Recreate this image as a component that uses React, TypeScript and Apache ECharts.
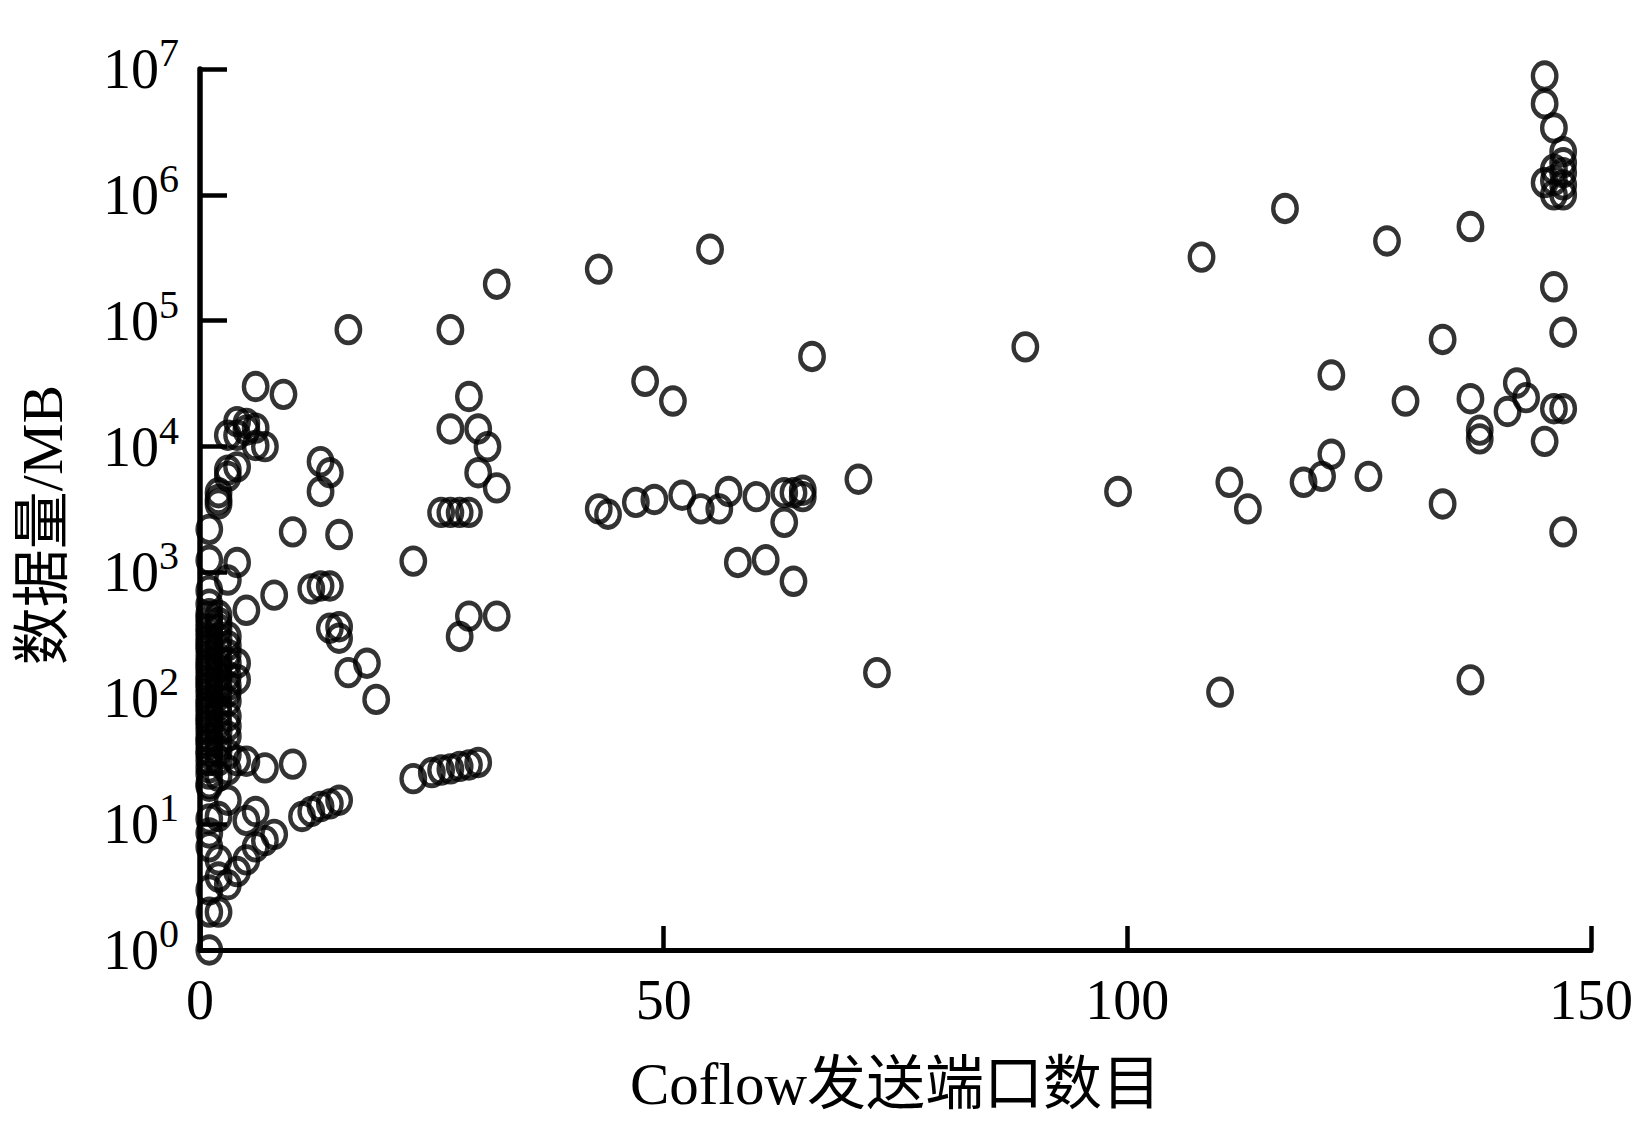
import React, { useEffect, useRef } from "react";
import * as echarts from "echarts";

// ---- axis ticks ----
const xTickValues = [0, 50, 100, 150];
const yMinMB = 1;
const yMaxMB = 1e7;

// ---- data: Coflow sender ports vs. data volume (MB) ----
// few senders (1-10)
const fewPorts = [
  1, 1, 2, 1, 3, 2, 4, 5, 2, 6, 1, 7, 8, 1, 1, 2, 5, 6, 3, 1, 3, 1, 4, 5, 7, 10,
  1, 1, 1, 1, 1, 1, 1, 1, 1, 1, 1, 1, 1, 1, 1, 1, 1, 1, 1, 1,
  2, 2, 2, 2, 2, 2, 2, 2, 2, 2, 2, 2,
  3, 3, 3, 3, 3, 3, 3, 3,
  4, 4, 4, 4, 4, 4,
  5, 5, 5, 6, 6, 6, 7, 8, 9, 10,
];
const fewMB = [
  1, 2.0, 2.0, 3.0, 3.3, 3.8, 4.2, 5.2, 5.2, 6.6, 6.6, 7.4, 8.3, 8.5, 11, 11.5, 10.7, 12.6, 15.5, 20, 27, 28, 32, 31.6, 28, 30,
  36, 43, 49, 61, 70, 84, 98, 122, 140, 168, 195, 245, 280, 335, 400, 470, 560, 720, 1250, 2200,
  38, 54, 76, 105, 132, 178, 251, 355, 457, 3500, 3800, 4300,
  112, 150, 224, 309, 870, 5800, 6500, 12300,
  141, 190, 1200, 6900, 12300, 15800,
  500, 15300, 13500, 30000, 14000, 10200, 10000, 660, 26000, 2100,
];

// dense column of single/double/triple-sender coflows
const columnPorts = [
  1, 1, 1, 1, 1, 1, 1, 1, 1, 1, 1, 1, 1, 1, 1, 1, 1, 1,
  2, 2, 2, 2, 2, 2, 2, 2, 2, 2,
  3, 3, 3, 3, 3, 3, 3, 3,
];
const columnMB = [
  21, 25, 32, 38, 46, 55, 66, 77, 91, 110, 131, 152, 182, 218, 262, 305, 362, 438,
  24, 32, 45, 63, 88, 118, 150, 208, 296, 400,
  36, 50, 60, 72, 95, 126, 190, 262,
];

// medium senders (11-40)
const midPorts = [
  13, 14, 13, 15, 16, 12, 13, 14, 14, 15, 15, 16, 18, 19,
  11, 12, 13, 14, 15, 23, 23, 25, 26, 27, 28, 29, 30,
  27, 26, 27, 28, 29, 27, 30, 31, 30, 32, 29, 29, 32, 28, 32,
];
const midMB = [
  7600, 6200, 4400, 2000, 85000, 740, 780, 780, 360, 370, 300, 160, 190, 98,
  11.5, 12.6, 13.8, 14.5, 15.5, 1230, 23, 25.7, 26.9, 27.5, 28.8, 29.5, 30.9,
  85000, 3000, 3000, 3000, 3000, 13800, 13800, 10000, 6200, 4700, 25000, 450, 450, 310, 195000,
];

// many senders (41-100)
const manyPorts = [
  43, 55, 66, 89, 99, 48, 51, 43, 44, 47, 49, 52, 54, 56, 57, 60,
  63, 64, 65, 65, 63, 58, 61, 64, 71, 73,
];
const manyMB = [
  257000, 370000, 52000, 62000, 4400, 33000, 23000, 3200, 2900, 3600, 3800, 4100, 3200, 3200, 4400, 4000,
  4300, 4300, 4500, 4000, 2500, 1200, 1260, 850, 5500, 160,
];

// very many senders (>100)
const hugePorts = [
  108, 117, 128, 137, 110, 111, 113, 119, 121, 122, 122, 126, 130, 134, 134, 137, 137,
  138, 138, 141, 142, 143, 145, 146, 147, 146, 147, 147,
  145, 145, 146, 147, 147, 147, 147, 147, 146, 146, 145, 146,
];
const hugeMB = [
  320000, 780000, 430000, 560000, 112, 5200, 3200, 5200, 5800, 8700, 37000, 5800, 23000, 71000, 3500, 24000, 140,
  13500, 11500, 19000, 32000, 24500, 11000, 20000, 20000, 186000, 81000, 2100,
  8800000, 5300000, 3400000, 2200000, 1800000, 1500000, 1200000, 1000000, 1600000, 1000000, 1250000, 1300000,
];

const allPorts = [...fewPorts, ...columnPorts, ...midPorts, ...manyPorts, ...hugePorts];
const allMB = [...fewMB, ...columnMB, ...midMB, ...manyMB, ...hugeMB];

const SERIF = "'Liberation Serif', 'Times New Roman', 'Noto Sans CJK SC', serif";
const ELLIPSE =
  "path://M0,-1C0.5523,-1,1,-0.5523,1,0C1,0.5523,0.5523,1,0,1C-0.5523,1,-1,0.5523,-1,0C-1,-0.5523,-0.5523,-1,0,-1Z";

export default function App() {
  const ref = useRef<HTMLDivElement>(null);

  useEffect(() => {
    if (!ref.current) return;
    const chart = echarts.init(ref.current, undefined, { renderer: "svg" });
    const data = allPorts.map((p, i) => [p, allMB[i]]);

    chart.setOption({
      animation: false,
      backgroundColor: "#ffffff",
      grid: { left: 200, right: 48, top: 69, bottom: 175, containLabel: false },
      graphic: [
        {
          type: "text",
          x: 42,
          y: 525,
          rotation: Math.PI / 2,
          style: {
            text: "数据量/MB",
            fontFamily: SERIF,
            fontSize: 58,
            fill: "#000",
            align: "center",
            verticalAlign: "middle",
          },
        },
      ],
      xAxis: {
        type: "value",
        min: xTickValues[0],
        max: xTickValues[xTickValues.length - 1],
        interval: 50,
        name: "Coflow发送端口数目",
        nameLocation: "middle",
        nameGap: 104,
        nameTextStyle: { fontFamily: SERIF, fontSize: 59, color: "#000" },
        axisLine: { show: true, onZero: false, lineStyle: { color: "#000", width: 5 } },
        axisTick: { show: true, inside: true, length: 24, lineStyle: { color: "#000", width: 4.5 } },
        axisLabel: { margin: 22, fontFamily: SERIF, fontSize: 56, color: "#000" },
        splitLine: { show: false },
      },
      yAxis: {
        type: "log",
        logBase: 10,
        min: yMinMB,
        max: yMaxMB,
        axisLine: { show: true, onZero: false, lineStyle: { color: "#000", width: 5.5 } },
        axisTick: { show: true, inside: true, length: 27, lineStyle: { color: "#000", width: 4.5 } },
        axisLabel: {
          margin: 21,
          formatter: (v: number) => `{b|10}{s|${Math.round(Math.log10(v))}}`,
          rich: {
            b: { fontFamily: SERIF, fontSize: 56, color: "#000", lineHeight: 56 },
            s: { fontFamily: SERIF, fontSize: 40, color: "#000", lineHeight: 40, padding: [0, 0, 33, 0] },
          },
        },
        splitLine: { show: false },
      },
      series: [
        {
          type: "scatter",
          data,
          symbol: ELLIPSE,
          symbolSize: [23.5, 26.5],
          itemStyle: { color: "rgba(0,0,0,0)", borderColor: "#000", borderWidth: 4.6 },
          emphasis: { disabled: true },
          silent: true,
        },
      ],
    });

    return () => chart.dispose();
  }, []);

  return (
    <div
      ref={ref}
      style={{ position: "absolute", left: 0, top: 0, width: 1639, height: 1125, background: "#fff" }}
    />
  );
}
